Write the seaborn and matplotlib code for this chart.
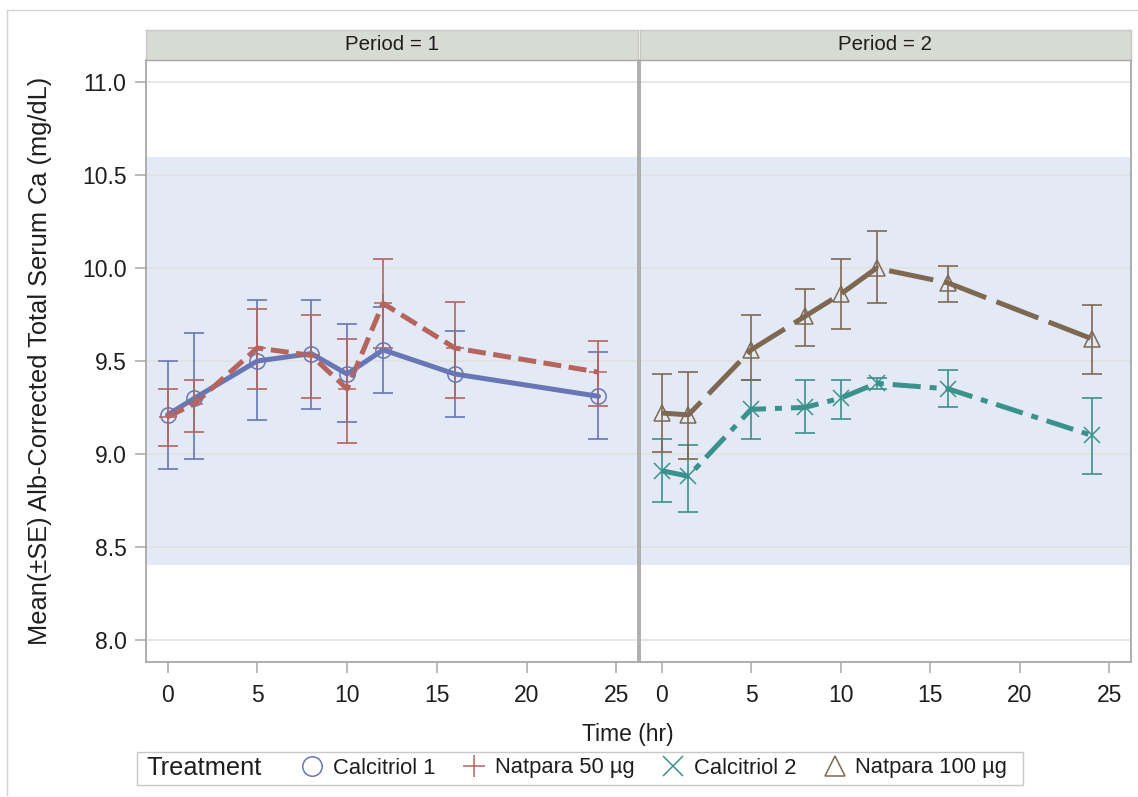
import numpy as np
import pandas as pd
import matplotlib
matplotlib.use('Agg')
import matplotlib.pyplot as plt
import seaborn as sns
from matplotlib.lines import Line2D
from matplotlib.patches import Rectangle

sns.set_theme(style="white")
plt.rcParams['font.family'] = ['Liberation Sans', 'DejaVu Sans']

# ---- data ----
times = [0, 1.5, 5, 8, 10, 12, 16, 24]

cal1_mean = [9.21, 9.30, 9.50, 9.54, 9.43, 9.56, 9.43, 9.31]
cal1_lo   = [8.92, 8.97, 9.18, 9.24, 9.17, 9.33, 9.20, 9.08]
cal1_hi   = [9.50, 9.65, 9.83, 9.83, 9.70, 9.79, 9.66, 9.55]

nat50_mean = [9.20, 9.27, 9.57, 9.53, 9.35, 9.81, 9.57, 9.44]
nat50_lo   = [9.04, 9.12, 9.35, 9.30, 9.06, 9.57, 9.30, 9.26]
nat50_hi   = [9.35, 9.40, 9.78, 9.75, 9.62, 10.05, 9.82, 9.61]

cal2_mean = [8.91, 8.88, 9.24, 9.25, 9.30, 9.38, 9.35, 9.10]
cal2_lo   = [8.74, 8.69, 9.08, 9.11, 9.19, 9.35, 9.25, 8.89]
cal2_hi   = [9.08, 9.05, 9.40, 9.40, 9.40, 9.41, 9.45, 9.30]

nat100_mean = [9.22, 9.21, 9.56, 9.74, 9.86, 10.00, 9.92, 9.62]
nat100_lo   = [9.01, 8.97, 9.40, 9.58, 9.67, 9.81, 9.82, 9.43]
nat100_hi   = [9.43, 9.44, 9.75, 9.89, 10.05, 10.20, 10.01, 9.80]

treatments = ['Calcitriol 1', 'Natpara 50 µg', 'Calcitriol 2', 'Natpara 100 µg']
periods = [1, 1, 2, 2]
ref_low, ref_high = 8.4, 10.6
yticks = [8.0, 8.5, 9.0, 9.5, 10.0, 10.5, 11.0]
xticks = [0, 5, 10, 15, 20, 25]

rows = []
for trt, per, m, lo, hi in zip(treatments, periods,
                               [cal1_mean, nat50_mean, cal2_mean, nat100_mean],
                               [cal1_lo, nat50_lo, cal2_lo, nat100_lo],
                               [cal1_hi, nat50_hi, cal2_hi, nat100_hi]):
    for t, a, b, c in zip(times, m, lo, hi):
        rows.append({'time': t, 'mean': a, 'lo': b, 'hi': c, 'treatment': trt, 'period': per})
df = pd.DataFrame(rows)

# ---- styles ----
pal = {'Calcitriol 1': '#6876B6', 'Natpara 50 µg': '#B5645E',
       'Calcitriol 2': '#3B918C', 'Natpara 100 µg': '#7E6852'}
dash_map = {'Calcitriol 1': '', 'Natpara 50 µg': (3.6, 1.5),
            'Calcitriol 2': (5.6, 1.8, 1.4, 1.8), 'Natpara 100 µg': (9, 2.2)}
mk = {'Calcitriol 1': 'o', 'Natpara 50 µg': '+', 'Calcitriol 2': 'x', 'Natpara 100 µg': '^'}
mk_size = {'Calcitriol 1': 11, 'Natpara 50 µg': 13, 'Calcitriol 2': 11, 'Natpara 100 µg': 11.5}
band_col = '#E4EAF5'
grid_col = '#E0E0E0'
spine_col = '#A8A8A8'
strip_col = '#D8DAD4'
txt_col = '#1E1E1E'

W, H = 1138, 797
fig = plt.figure(figsize=(W / 100, H / 100), dpi=100)

def fx(px): return px / W
def fy(py): return 1 - py / H

panel_top, panel_bot = 60, 662
ax1 = fig.add_axes([fx(146), fy(panel_bot), fx(638 - 146), fy(panel_top) - fy(panel_bot)])
ax2 = fig.add_axes([fx(640), fy(panel_bot), fx(1131 - 640), fy(panel_top) - fy(panel_bot)])

for ax, per in [(ax1, 1), (ax2, 2)]:
    sub = df[df['period'] == per]
    lv = list(dict.fromkeys(sub['treatment']))
    ax.axhspan(ref_low, ref_high, color=band_col, zorder=0.1, lw=0)
    for yv in yticks:
        ax.axhline(yv, color=grid_col, lw=1.1, zorder=0.3)

    for trt in lv:
        s = sub[sub['treatment'] == trt]
        ax.errorbar(s['time'], s['mean'], yerr=[s['mean'] - s['lo'], s['hi'] - s['mean']],
                    fmt='none', ecolor=pal[trt], elinewidth=1.2, capsize=7, capthick=1.2, zorder=2)

    sns.lineplot(data=sub, x='time', y='mean', hue='treatment', style='treatment',
                 palette={k: pal[k] for k in lv}, dashes={k: dash_map[k] for k in lv},
                 linewidth=3.6, errorbar=None, legend=False, ax=ax, zorder=3)
    for line in ax.get_lines():
        line.set_dash_capstyle('butt')

    for trt in lv:
        s = sub[sub['treatment'] == trt]
        ax.plot(s['time'], s['mean'], ls='none', marker=mk[trt], ms=mk_size[trt],
                mfc='none', mec=pal[trt], mew=1.1, zorder=4)

    ax.set_xlim(-1.2, 26.2)
    ax.set_ylim(7.88, 11.12)
    ax.set_xticks(xticks)
    ax.set_xticklabels([str(x) for x in xticks])
    ax.set_yticks(yticks)
    ax.set_yticklabels([f'{y:.1f}' for y in yticks])
    ax.set_xlabel('')
    ax.set_ylabel('')
    ax.grid(False)
    ax.set_facecolor('white')
    for sp in ax.spines.values():
        sp.set_visible(True)
        sp.set_color(spine_col)
        sp.set_linewidth(1.3)
    ax.tick_params(axis='both', direction='out', length=8, width=1.1, color=spine_col,
                   labelsize=16.5, labelcolor=txt_col, bottom=True, left=True)
    ax.tick_params(axis='x', pad=8)
    ax.tick_params(axis='y', pad=6)

ax2.tick_params(axis='y', left=False, labelleft=False)

# strip headers
for px0, px1, lab in [(146, 638, 'Period = 1'), (640, 1131, 'Period = 2')]:
    sax = fig.add_axes([fx(px0), fy(panel_top), fx(px1 - px0), fy(30) - fy(panel_top)])
    sax.set_facecolor(strip_col)
    sax.set_xticks([]); sax.set_yticks([])
    for sp in sax.spines.values():
        sp.set_color('#C8C8C4'); sp.set_linewidth(1)
    sax.spines['bottom'].set_color(spine_col)
    sax.text(0.5, 0.5, lab, ha='center', va='center', fontsize=14.8, color=txt_col,
             transform=sax.transAxes)

fig.text(fx(40), fy((panel_top + panel_bot) / 2), 'Mean(±SE) Alb-Corrected Total Serum Ca (mg/dL)',
         rotation=90, ha='center', va='center', fontsize=18.3, color=txt_col)
fig.text(fx(628), fy(735), 'Time (hr)', ha='center', va='center', fontsize=16.5, color=txt_col)

# legend: "Treatment" label, marker entries, and a frame round them
fig.add_artist(Rectangle((fx(137), fy(785)), fx(1023 - 137), fy(752) - fy(785),
                         fill=False, edgecolor='#C8C8C8', lw=1, transform=fig.transFigure))
fig.text(fx(146), fy(768), 'Treatment', ha='left', va='center', fontsize=18.3, color=txt_col)
handles = []
for trt in treatments:
    handles.append(Line2D([], [], ls='none', marker=mk[trt], ms=mk_size[trt] + 3,
                          mfc='none', mec=pal[trt], mew=1.1))
leg = fig.legend(handles, treatments, loc='center left', bbox_to_anchor=(fx(299), fy(768)),
                 ncol=4, frameon=False, fontsize=15.8, handlelength=1.2,
                 handletextpad=0.35, columnspacing=1.15, borderpad=0, borderaxespad=0)
for t in leg.get_texts():
    t.set_color(txt_col)

# light outer frame
fig.add_artist(Line2D([fx(7), fx(7)], [fy(795), fy(10)], color='#D4D4D4', lw=1))
fig.add_artist(Line2D([fx(7), 1], [fy(10), fy(10)], color='#D4D4D4', lw=1))

fig.savefig('out.png', dpi=100, facecolor='white')
